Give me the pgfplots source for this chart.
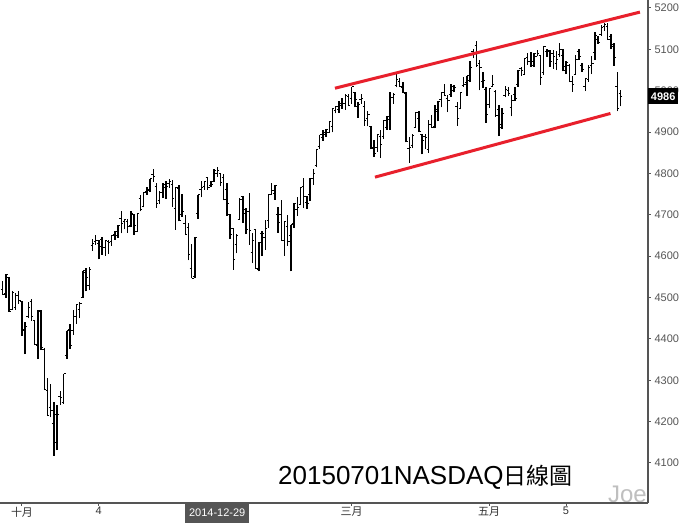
\documentclass[border=0pt]{standalone}
\usepackage{fontspec}
\setmainfont{Liberation Sans}
\newfontfamily\cjk{Noto Sans CJK TC}
\usepackage{pgfplots}
\pgfplotsset{compat=1.18}
\usepackage{pgfplotstable}
\definecolor{chred}{HTML}{E8202C}
\definecolor{axgray}{HTML}{555555}
\definecolor{lblgray}{HTML}{333333}

% open tick to the left, close tick to the right
\pgfdeclareplotmark{otick}{\pgfpathmoveto{\pgfqpoint{-1.9pt}{0pt}}\pgfpathlineto{\pgfqpoint{0pt}{0pt}}\pgfusepathqstroke}
\pgfdeclareplotmark{ctick}{\pgfpathmoveto{\pgfqpoint{0pt}{0pt}}\pgfpathlineto{\pgfqpoint{1.9pt}{0pt}}\pgfusepathqstroke}

% daily bars, x = trading day (0 = 2014-10-01)
\pgfplotstableread{
x o h l c
-7 4570 4573 4520 4528
-6 4520 4540 4506 4508
-5 4510 4556 4500 4555
-4 4548 4550 4466 4467
-3 4470 4515 4470 4512
-2 4475 4510 4471 4506
-1 4505 4515 4484 4493
0 4490 4492 4408 4422
1 4420 4440 4363 4430
2 4455 4488 4450 4476
3 4490 4496 4444 4454
4 4445 4446 4384 4386
5 4385 4471 4351 4469
6 4467 4469 4373 4379
7 4375 4379 4276 4277
8 4275 4306 4213 4214
9 4235 4290 4210 4228
10 4195 4247 4117 4216
11 4150 4239 4131 4218
12 4260 4273 4240 4258
13 4245 4316 4243 4316
14 4360 4420 4352 4420
15 4422 4436 4375 4383
16 4420 4471 4410 4453
17 4455 4484 4436 4483
18 4470 4488 4450 4485
19 4500 4565 4500 4565
20 4560 4572 4515 4549
21 4530 4574 4518 4567
22 4625 4641 4613 4631
23 4635 4650 4627 4638
24 4630 4640 4592 4623
25 4640 4647 4603 4620
26 4620 4640 4601 4638
27 4635 4640 4605 4633
28 4636 4652 4625 4651
29 4652 4662 4640 4660
30 4650 4676 4645 4675
31 4690 4710 4655 4680
32 4683 4690 4665 4688
33 4683 4690 4657 4671
34 4675 4710 4670 4702
35 4700 4703 4652 4675
36 4660 4703 4658 4702
37 4740 4747 4708 4712
38 4720 4755 4718 4755
39 4756 4768 4748 4758
40 4760 4787 4755 4787
41 4797 4810 4780 4792
42 4768 4778 4717 4727
43 4735 4758 4727 4755
44 4755 4777 4740 4774
45 4767 4782 4738 4769
46 4776 4786 4765 4780
47 4774 4784 4720 4740
48 4715 4767 4664 4766
49 4763 4771 4684 4685
50 4700 4750 4695 4708
51 4680 4700 4653 4653
52 4670 4681 4590 4605
53 4570 4630 4547 4547
54 4550 4646 4546 4645
55 4702 4748 4690 4748
56 4760 4781 4742 4765
57 4768 4782 4760 4781
58 4790 4792 4760 4765
59 4770 4782 4766 4774
60 4780 4811 4780 4807
61 4800 4815 4792 4806
62 4800 4800 4769 4777
63 4790 4798 4735 4736
64 4760 4777 4698 4727
65 4700 4703 4641 4653
66 4666 4668 4567 4593
67 4627 4654 4607 4650
68 4689 4741 4689 4737
69 4744 4745 4681 4704
70 4714 4716 4653 4665
71 4708 4753 4627 4662
72 4610 4655 4583 4639
73 4664 4664 4570 4570
74 4567 4635 4563 4634
75 4655 4662 4600 4655
76 4645 4688 4615 4668
77 4686 4751 4668 4750
78 4750 4777 4749 4758
79 4752 4771 4736 4772
80 4700 4719 4656 4682
81 4700 4735 4638 4638
82 4638 4684 4601 4684
83 4672 4700 4625 4635
84 4650 4676 4563 4676
85 4680 4728 4669 4728
86 4713 4743 4697 4717
87 4725 4768 4723 4766
88 4768 4788 4716 4744
89 4729 4746 4714 4727
90 4750 4790 4733 4788
91 4787 4810 4773 4801
92 4820 4859 4815 4858
93 4866 4893 4859 4893
94 4888 4904 4879 4899
95 4895 4907 4889 4906
96 4898 4925 4898 4925
97 4914 4957 4899 4956
98 4953 4962 4945 4961
99 4955 4974 4947 4968
100 4965 4982 4956 4968
101 4969 4992 4954 4988
102 4985 4993 4963 4964
103 4980 5009 4968 5009
104 4996 4998 4960 4979
105 4962 4973 4935 4967
106 4978 4992 4968 4982
107 4963 4976 4915 4928
108 4932 4950 4914 4942
109 4914 4915 4858 4860
110 4862 4882 4840 4849
111 4863 4893 4853 4894
112 4890 4904 4837 4871
113 4890 4929 4884 4929
114 4910 4940 4905 4937
115 4930 4996 4905 4983
116 4983 4994 4969 4992
117 5012 5042 5008 5026
118 5023 5030 5010 5011
119 5008 5021 4994 4995
120 4994 4998 4875 4876
121 4860 4887 4826 4863
122 4868 4896 4861 4891
123 4910 4948 4910 4948
124 4932 4950 4900 4901
125 4894 4895 4846 4880
126 4890 4896 4860 4886
127 4857 4928 4850 4918
128 4918 4941 4910 4910
129 4914 4966 4909 4950
130 4955 4975 4926 4974
131 4978 4996 4960 4996
132 4995 5016 4987 4988
133 4982 4989 4948 4977
134 4990 5016 4985 5011
135 5000 5015 4996 5008
136 4962 4972 4915 4932
137 4957 4996 4955 4995
138 5012 5034 5010 5015
139 5020 5036 4988 5036
140 5025 5073 5022 5057
141 5094 5101 5078 5092
142 5109 5120 5058 5060
143 5065 5075 5001 5055
144 5023 5045 5007 5024
145 5003 5009 4922 4942
146 4966 5007 4958 5005
147 5011 5039 5010 5016
148 4999 5001 4937 4940
149 4954 4965 4890 4919
150 4910 4957 4907 4945
151 4988 5012 4984 5003
152 5000 5010 4987 4993
153 4960 4990 4938 4976
154 4990 5009 4975 4981
155 5014 5050 5010 5050
156 5053 5058 5036 5048
157 5040 5080 5039 5078
158 5080 5091 5063 5071
159 5070 5094 5057 5071
160 5060 5092 5058 5090
161 5083 5099 5083 5089
162 5084 5087 5015 5033
163 5043 5107 5038 5106
164 5095 5100 5082 5098
165 5095 5098 5058 5070
166 5090 5099 5053 5082
167 5066 5095 5050 5076
168 5088 5115 5082 5100
169 5085 5100 5047 5059
170 5048 5072 5040 5068
171 5062 5065 5021 5022
172 5022 5035 4997 5014
173 5040 5086 5040 5076
174 5095 5100 5075 5083
175 5060 5067 5046 5051
176 5010 5030 4999 5029
177 5028 5061 5022 5055
178 5060 5085 5040 5065
179 5092 5143 5074 5133
180 5125 5132 5114 5117
181 5135 5160 5133 5153
182 5155 5164 5145 5160
183 5155 5163 5123 5123
184 5130 5137 5100 5112
185 5108 5115 5060 5080
186 5009 5045 4950 4958
187 4994 5001 4962 4987
}\nasdaq

\begin{document}
\begin{tikzpicture}
\fill[white] (0,0) rectangle (686pt,523pt);
\useasboundingbox (0,0) rectangle (686pt,523pt);
\node[anchor=base east, inner sep=0pt, text=black!25, font=\fontsize{24}{28}\selectfont] at (647pt,21pt) {Joe};
\begin{axis}[
  at={(0pt,20pt)}, anchor=south west,
  scale only axis, width=648pt, height=503pt,
  xmin=-6.875, xmax=195.625, ymin=4003.2, ymax=5219.3,
  axis x line=bottom, axis y line=right,
  axis line style={axgray, line width=1.3pt, -},
  ytick={4100,4200,...,5200},
  /pgf/number format/1000 sep={},
  /pgf/number format/assume math mode=true,
  yticklabel style={font=\fontsize{11}{12}\selectfont, text=axgray, xshift=0.5pt},
  xtick={0,24,61,103,146,170},
  xticklabels={{\cjk 十月},4,{},{\cjk 三月},{\cjk 五月},5},
  xticklabel style={font=\fontsize{11}{12}\selectfont, text=lblgray, yshift=2pt},
  tick align=outside, major tick length=2.5pt,
  tick style={axgray, line width=1pt},
  clip mode=individual,
]
% high-low lines
\addplot[black, line width=1.4pt, mark=none, -,
  quiver={u=0, v=\thisrow{h}-\thisrow{l}}]
  table[x=x, y=l] {\nasdaq};
\addplot[only marks, mark=otick, mark options={black, line width=1pt}] table[x=x, y=o] {\nasdaq};
\addplot[only marks, mark=ctick, mark options={black, line width=1pt}] table[x=x, y=c] {\nasdaq};
% channel lines
\addplot[chred, line width=3pt, no marks] coordinates {(97.8,5006) (193.1,5190)};
\addplot[chred, line width=3pt, no marks] coordinates {(110.3,4791) (183.9,4945)};
\coordinate (lastc) at (axis cs:195.625,4986);
\coordinate (d1229) at (axis cs:61,4003.2);
\end{axis}
\node[fill=black, text=white, font=\bfseries\fontsize{11}{12}\selectfont, anchor=west, inner sep=0pt, minimum width=30pt, minimum height=16pt] at (lastc) {4986};
\node[fill=axgray, text=white, font=\fontsize{11}{12}\selectfont, anchor=north, inner sep=0pt, minimum width=64pt, minimum height=20pt] at (d1229) {2014-12-29};
\node[anchor=base west, inner sep=0pt, font=\fontsize{26}{30}\selectfont] at (278pt,39pt) {20150701NASDAQ{\cjk\fontsize{23}{28}\selectfont 日線圖}};
\end{tikzpicture}
\end{document}
